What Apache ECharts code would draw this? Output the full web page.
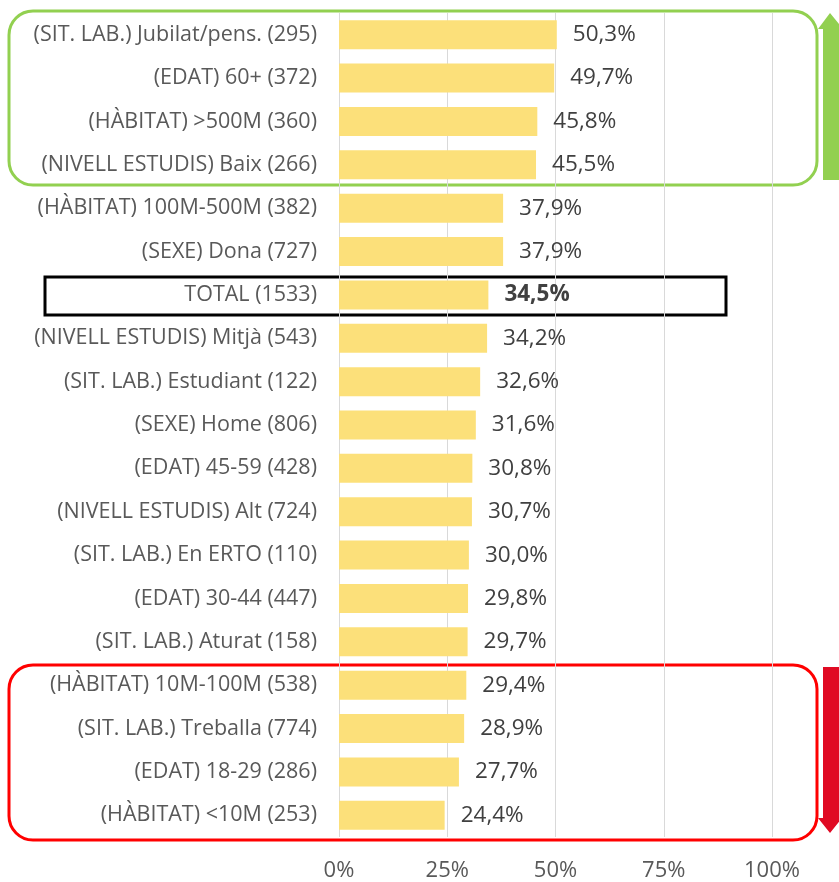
<!DOCTYPE html>
<html>
<head>
<meta charset="utf-8">
<script src="https://cdn.jsdelivr.net/npm/echarts@6/dist/echarts.min.js"></script>
<style>
  html, body { margin: 0; padding: 0; background: #fff; }
  #chartCover { width: 839px; height: 882px; }
</style>
</head>
<body>
<div id="chartCover"></div>
<script>
  // categories (top to bottom) and percentages
  var categories = [
    "(SIT. LAB.) Jubilat/pens. (295)",
    "(EDAT) 60+ (372)",
    "(HÀBITAT) >500M (360)",
    "(NIVELL ESTUDIS) Baix (266)",
    "(HÀBITAT) 100M-500M (382)",
    "(SEXE) Dona (727)",
    "TOTAL (1533)",
    "(NIVELL ESTUDIS) Mitjà (543)",
    "(SIT. LAB.) Estudiant (122)",
    "(SEXE) Home (806)",
    "(EDAT) 45-59 (428)",
    "(NIVELL ESTUDIS) Alt (724)",
    "(SIT. LAB.) En ERTO (110)",
    "(EDAT) 30-44 (447)",
    "(SIT. LAB.) Aturat (158)",
    "(HÀBITAT) 10M-100M (538)",
    "(SIT. LAB.) Treballa (774)",
    "(EDAT) 18-29 (286)",
    "(HÀBITAT) <10M (253)"
  ];
  var values = [50.3, 49.7, 45.8, 45.5, 37.9, 37.9, 34.5, 34.2, 32.6, 31.6, 30.8, 30.7, 30.0, 29.8, 29.7, 29.4, 28.9, 27.7, 24.4];
  var tickValues = [0, 25, 50, 75, 100];

  var totalIndex = categories.indexOf("TOTAL (1533)");
  var fontFam = "'Open Sans', 'Noto Sans', sans-serif";

  var barData = values.map(function (v, i) {
    var obj = { value: v };
    if (i == totalIndex) {
      obj.label = { fontWeight: 'bold', color: '#404040' };
    }
    return obj;
  });

  var myChart = echarts.init(document.getElementById("chartCover"));
  var option = {
    animation: false,
    backgroundColor: '#fff',
    grid: { left: 339, right: 67, top: 13, bottom: 45, containLabel: false },
    xAxis: {
      type: 'value',
      min: tickValues[0],
      max: tickValues[tickValues.length - 1],
      interval: 25,
      axisLine: { show: false },
      axisTick: { show: false },
      splitLine: { show: true, lineStyle: { color: '#d9d9d9', width: 1 } },
      axisLabel: {
        margin: 23,
        color: '#595959',
        fontSize: 22,
        fontFamily: fontFam,
        formatter: function (v) { return v + '%'; }
      }
    },
    yAxis: {
      type: 'category',
      inverse: true,
      data: categories,
      axisLine: { show: false },
      axisTick: { show: false },
      axisLabel: {
        margin: 22,
        color: '#595959',
        fontSize: 21.5,
        fontFamily: fontFam
      }
    },
    series: [{
      type: 'bar',
      data: barData,
      barWidth: 29,
      itemStyle: { color: '#fce07a' },
      label: {
        show: true,
        position: 'right',
        distance: 16,
        color: '#404040',
        fontSize: 22.5,
        fontFamily: fontFam,
        formatter: function (p) { return p.value.toFixed(1).replace('.', ',') + '%'; }
      }
    }],
    graphic: [
      // green group box
      { type: 'rect', shape: { x: 9, y: 11, width: 808, height: 174, r: 24 },
        style: { fill: 'none', stroke: '#92d050', lineWidth: 3 } },
      // red group box
      { type: 'rect', shape: { x: 9, y: 665, width: 808, height: 175, r: 24 },
        style: { fill: 'none', stroke: '#ff0000', lineWidth: 3 } },
      // total box
      { type: 'rect', shape: { x: 45, y: 277, width: 681, height: 38 },
        style: { fill: 'none', stroke: '#000', lineWidth: 3 } },
      // green up arrow
      { type: 'polygon', shape: { points: [[823, 180], [823, 29], [818, 29], [830, 13], [839, 24], [839, 180]] },
        style: { fill: '#92d050' } },
      // red down arrow
      { type: 'polygon', shape: { points: [[823, 667], [839, 667], [839, 818], [842, 818], [830, 833], [818, 818], [823, 818]] },
        style: { fill: '#e00a23' } }
    ]
  };
  option && myChart.setOption(option, true);
</script>
</body>
</html>
